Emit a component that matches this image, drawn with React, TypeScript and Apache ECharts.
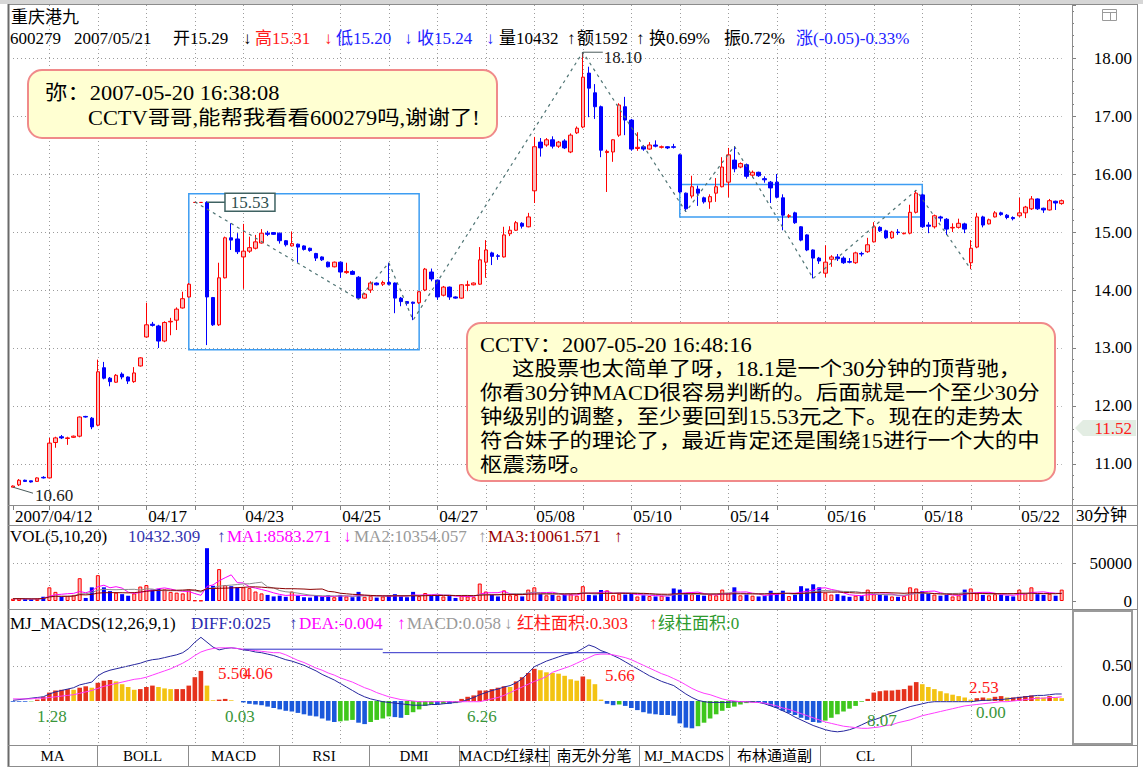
import React, { useEffect, useRef } from 'react';
import * as echarts from 'echarts';

const FONT = "'Liberation Serif', 'Noto Sans CJK SC', serif";

// 30-minute bars: [open, close, low, high]
const ohlc: number[][] = [
  [10.60,10.62,10.60,10.63],[10.64,10.72,10.62,10.74],[10.72,10.70,10.69,10.73],[10.71,10.69,10.68,10.71],[10.70,10.76,10.69,10.77],[10.77,10.76,10.75,10.79],[10.76,11.36,10.75,11.45],[11.37,11.45,11.28,11.47],[11.47,11.45,11.43,11.50],[11.44,11.45,11.33,11.47],
  [11.46,11.48,11.45,11.49],[11.48,11.81,11.46,11.82],[11.82,11.81,11.80,11.83],[11.79,11.64,11.60,11.81],[11.67,12.59,11.65,12.80],[12.66,12.48,12.46,12.76],[12.48,12.42,12.34,12.50],[12.41,12.53,12.40,12.55],[12.55,12.50,12.46,12.58],[12.50,12.43,12.38,12.51],
  [12.42,12.57,12.40,12.67],[12.69,12.83,12.68,12.84],[13.19,13.40,13.18,13.78],[13.41,13.39,13.37,13.45],[13.38,13.12,13.00,13.40],[13.12,13.44,13.10,13.46],[13.45,13.46,13.22,13.52],[13.48,13.67,13.31,13.70],[13.69,13.85,13.68,13.97],[13.88,14.10,13.87,14.12],
  [15.51,15.51,15.51,15.51],[15.51,15.51,15.51,15.51],[15.51,13.88,13.05,15.53],[13.87,13.40,13.38,13.88],[13.40,14.21,13.38,14.47],[14.21,14.90,14.20,14.92],[14.90,14.86,14.69,15.15],[14.88,14.66,14.62,14.98],[14.57,14.67,14.02,15.14],[14.67,14.73,14.64,14.92],
  [14.72,14.83,14.70,14.95],[14.81,14.98,14.80,15.05],[14.98,14.96,14.93,15.02],[14.99,14.96,14.95,15.00],[14.98,14.85,14.80,14.99],[14.85,14.78,14.75,14.86],[14.76,14.80,14.75,15.01],[14.79,14.74,14.47,14.80],[14.76,14.70,14.68,14.77],[14.72,14.68,14.66,14.73],
  [14.63,14.55,14.50,14.64],[14.57,14.52,14.50,14.58],[14.48,14.40,14.39,14.49],[14.40,14.48,14.39,14.49],[14.48,14.31,14.21,14.49],[14.30,14.32,14.28,14.47],[14.32,14.27,14.26,14.34],[14.22,13.86,13.84,14.24],[13.86,13.93,13.85,13.95],[14.00,14.12,13.95,14.15],
  [14.12,14.09,14.08,14.13],[14.10,14.13,14.07,14.16],[14.13,14.10,14.08,14.47],[14.12,13.86,13.60,14.13],[13.86,13.80,13.72,13.88],[13.80,13.77,13.73,13.81],[13.79,13.77,13.48,13.80],[13.78,13.97,13.76,13.98],[14.00,14.36,13.98,14.38],[14.31,14.19,14.15,14.37],
  [14.17,13.88,13.83,14.18],[13.91,14.05,13.89,14.07],[14.05,13.88,13.83,14.06],[13.88,13.86,13.85,13.89],[13.86,14.09,13.85,14.10],[14.08,14.09,13.98,14.16],[14.09,14.12,14.08,14.13],[14.10,14.52,14.09,14.74],[14.48,14.69,14.21,14.86],[14.64,14.58,14.43,14.66],
  [14.59,14.58,14.52,14.62],[14.57,14.95,14.56,15.09],[14.97,15.03,14.93,15.10],[15.03,15.16,15.02,15.19],[15.15,15.10,15.06,15.17],[15.09,15.26,15.08,15.33],[15.71,16.47,15.50,16.64],[16.55,16.45,16.30,16.62],[16.50,16.59,16.47,16.62],[16.59,16.48,16.44,16.65],
  [16.48,16.55,16.45,16.57],[16.57,16.45,16.43,16.60],[16.38,16.67,16.36,16.70],[16.71,16.79,16.69,16.82],[16.81,17.67,16.79,18.10],[17.74,17.48,16.98,17.85],[17.40,17.16,16.95,17.55],[17.16,16.41,16.29,17.18],[16.37,16.39,15.69,16.42],[16.38,16.59,16.21,16.60],
  [16.67,17.19,16.64,17.22],[17.16,16.93,16.67,17.33],[16.93,16.43,16.40,16.95],[16.44,16.46,16.40,16.72],[16.47,16.43,16.40,16.50],[16.43,16.50,16.42,16.55],[16.50,16.48,16.46,16.58],[16.46,16.47,16.44,16.49],[16.47,16.45,16.43,16.48],[16.47,16.46,16.44,16.52],
  [16.33,15.69,15.67,16.35],[15.67,15.40,15.35,15.68],[15.62,15.78,15.58,15.97],[15.74,15.67,15.45,15.80],[15.59,15.52,15.49,15.61],[15.52,15.61,15.40,15.65],[15.67,15.78,15.52,15.93],[15.78,16.12,15.77,16.29],[15.86,16.33,15.60,16.45],[16.24,16.09,16.03,16.48],
  [16.12,16.18,16.10,16.20],[16.16,15.96,15.92,16.18],[15.98,16.03,15.94,16.06],[16.03,15.97,15.95,16.04],[15.92,15.90,15.85,15.96],[15.86,15.76,15.50,15.88],[15.86,15.60,15.58,16.00],[15.59,15.29,15.03,15.65],[15.27,15.28,15.24,15.31],[15.33,15.16,15.14,15.35],
  [15.09,14.86,14.84,15.10],[14.95,14.69,14.67,14.96],[14.69,14.55,14.20,14.70],[14.55,14.50,14.45,14.57],[14.29,14.48,14.22,14.77],[14.53,14.57,14.40,14.60],[14.57,14.54,14.50,14.62],[14.55,14.47,14.45,14.58],[14.49,14.48,14.46,14.55],[14.47,14.64,14.45,14.66],
  [14.63,14.62,14.58,14.66],[14.66,14.78,14.64,14.90],[14.83,15.09,14.82,15.17],[15.08,15.02,15.00,15.10],[15.02,14.90,14.88,15.04],[14.90,15.00,14.88,15.02],[15.00,14.99,14.95,15.05],[14.97,14.98,14.96,14.99],[14.98,15.34,14.96,15.47],[15.34,15.67,15.32,15.72],
  [15.64,15.09,15.07,15.66],[15.12,15.10,14.98,15.17],[15.09,15.28,15.06,15.30],[15.26,15.24,15.18,15.28],[15.22,15.05,14.95,15.24],[15.07,15.08,15.00,15.15],[15.08,15.15,15.06,15.23],[15.14,15.05,14.98,15.16],[14.47,14.72,14.36,14.86],[14.74,15.26,14.72,15.33],
  [15.26,15.12,15.08,15.28],[15.14,15.21,15.13,15.23],[15.26,15.33,15.25,15.36],[15.33,15.30,15.28,15.35],[15.29,15.25,15.22,15.31],[15.25,15.23,15.20,15.27],[15.28,15.33,15.26,15.59],[15.33,15.43,15.24,15.45],[15.40,15.57,15.38,15.62],[15.57,15.40,15.38,15.58],
  [15.41,15.38,15.33,15.42],[15.38,15.54,15.37,15.57],[15.53,15.50,15.38,15.54],[15.49,15.54,15.47,15.56],
];

const volumes: number[] = [
  3000,3200,2500,2400,3000,5600,18000,12000,5800,6500,
  8000,30000,4000,18000,34000,18000,13000,11000,9000,7000,
  10000,19000,21000,15000,16000,15000,12000,11000,10000,15000,
  800,600,69500,20000,42000,21000,19500,18000,18000,17000,
  12500,10000,8000,6000,7000,5500,12500,7000,5000,4500,
  7000,6000,7500,5000,8000,6000,5000,12000,5500,7000,
  4500,6000,7500,9000,6000,5000,12000,6500,10500,7500,
  8000,6000,6500,4000,7000,6000,5000,23000,12500,8000,
  6000,14000,7500,8000,6000,15000,18000,9000,7500,8000,
  7000,8500,9000,7000,19500,8000,7500,14500,14000,7500,
  9500,8500,10000,6000,7500,6500,6000,7000,5500,16500,
  15000,10000,9000,8000,7000,8500,7500,15000,10500,18000,
  7500,8500,7000,6000,6500,13500,10000,13500,6500,8000,
  19500,16500,22000,18000,11000,8500,9000,7000,5500,7000,
  6500,15000,9000,8000,7500,6000,5500,6500,18000,16500,
  13000,9500,8500,7000,8000,6000,7500,15000,16500,10000,
  8000,7500,9000,8000,7000,6000,15000,10000,18000,9000,
  8000,9500,7000,15000,
];

const macdHist: number[] = [
  -0.01,-0.01,-0.01,-0.005,0.02,0.06,0.12,0.15,0.16,0.17,
  0.16,0.19,0.21,0.19,0.26,0.29,0.30,0.28,0.24,0.20,
  0.16,0.17,0.20,0.22,0.20,0.18,0.17,0.17,0.17,0.22,
  0.34,0.43,0.22,0.01,0.02,0.03,0.01,0.00,-0.02,-0.04,
  -0.05,-0.06,-0.08,-0.10,-0.12,-0.14,-0.15,-0.17,-0.19,-0.21,
  -0.22,-0.25,-0.28,-0.30,-0.29,-0.28,-0.27,-0.31,-0.33,-0.30,
  -0.27,-0.25,-0.22,-0.23,-0.24,-0.20,-0.16,-0.12,-0.07,-0.05,
  -0.05,-0.04,-0.04,-0.03,0.03,0.06,0.08,0.15,0.15,0.17,
  0.19,0.21,0.20,0.28,0.34,0.40,0.46,0.44,0.41,0.40,
  0.39,0.36,0.31,0.29,0.35,0.31,0.24,0.02,-0.04,-0.06,
  -0.05,-0.07,-0.10,-0.13,-0.16,-0.18,-0.19,-0.20,-0.20,-0.21,
  -0.32,-0.38,-0.39,-0.36,-0.31,-0.25,-0.19,-0.14,-0.10,-0.08,
  -0.05,-0.03,-0.02,-0.02,-0.04,-0.07,-0.10,-0.14,-0.17,-0.20,
  -0.24,-0.27,-0.30,-0.31,-0.28,-0.24,-0.19,-0.15,-0.11,-0.07,
  -0.01,0.03,0.12,0.14,0.15,0.15,0.16,0.17,0.22,0.27,
  0.24,0.20,0.17,0.14,0.11,0.09,0.07,0.05,0.02,0.04,
  0.05,0.04,0.06,0.07,0.05,0.05,0.06,0.07,0.08,0.06,
  0.05,0.07,0.05,0.04,
];

const diffValues: number[] = [
  0.01,0.02,0.03,0.04,0.05,0.06,0.10,0.13,0.15,0.17,
  0.19,0.23,0.25,0.27,0.36,0.41,0.44,0.46,0.48,0.50,
  0.52,0.54,0.57,0.59,0.60,0.62,0.64,0.66,0.69,0.75,
  0.84,0.91,0.84,0.77,0.73,0.75,0.76,0.75,0.73,0.72,
  0.70,0.69,0.67,0.65,0.62,0.59,0.57,0.54,0.51,0.47,
  0.43,0.38,0.34,0.30,0.25,0.20,0.15,0.10,0.06,0.03,
  0.01,-0.01,-0.02,-0.03,-0.04,-0.05,-0.06,-0.06,-0.06,-0.05,
  -0.05,-0.04,-0.03,-0.02,-0.01,0.02,0.05,0.09,0.12,0.15,
  0.17,0.20,0.22,0.26,0.32,0.40,0.49,0.53,0.57,0.60,
  0.63,0.66,0.68,0.70,0.75,0.80,0.77,0.72,0.69,0.65,
  0.61,0.56,0.51,0.46,0.41,0.36,0.32,0.28,0.25,0.22,
  0.16,0.10,0.05,0.01,-0.01,-0.02,-0.02,-0.02,-0.02,-0.01,
  -0.01,-0.01,-0.01,-0.02,-0.04,-0.07,-0.10,-0.14,-0.18,-0.23,
  -0.27,-0.31,-0.35,-0.38,-0.41,-0.43,-0.44,-0.43,-0.41,-0.38,
  -0.34,-0.30,-0.27,-0.24,-0.20,-0.17,-0.14,-0.11,-0.08,-0.06,
  -0.04,-0.02,-0.01,-0.01,-0.01,-0.01,-0.01,-0.01,-0.01,0.00,
  0.01,0.01,0.02,0.02,0.03,0.04,0.05,0.06,0.07,0.08,
  0.08,0.09,0.10,0.10,
];

const deaValues: number[] = [
  0.03,0.03,0.03,0.03,0.04,0.04,0.05,0.06,0.07,0.08,
  0.09,0.11,0.13,0.15,0.18,0.21,0.23,0.25,0.27,0.29,
  0.31,0.32,0.34,0.37,0.40,0.43,0.46,0.50,0.54,0.59,
  0.65,0.70,0.73,0.75,0.76,0.76,0.76,0.75,0.74,0.73,
  0.72,0.71,0.70,0.69,0.69,0.66,0.62,0.58,0.55,0.51,
  0.47,0.44,0.40,0.37,0.33,0.30,0.27,0.23,0.19,0.16,
  0.12,0.09,0.06,0.04,0.02,0.01,0.00,-0.01,-0.01,-0.01,
  -0.01,-0.01,-0.01,-0.01,-0.01,-0.01,-0.01,-0.01,0.01,0.03,
  0.05,0.08,0.12,0.16,0.20,0.24,0.28,0.31,0.35,0.41,
  0.44,0.47,0.50,0.54,0.58,0.62,0.66,0.67,0.67,0.66,
  0.64,0.62,0.59,0.55,0.51,0.47,0.43,0.39,0.36,0.32,
  0.28,0.23,0.18,0.14,0.11,0.09,0.06,0.03,0.01,0.00,
  -0.01,-0.01,-0.02,-0.02,-0.03,-0.05,-0.07,-0.10,-0.12,-0.15,
  -0.18,-0.21,-0.24,-0.27,-0.30,-0.32,-0.34,-0.36,-0.37,-0.38,
  -0.39,-0.39,-0.38,-0.37,-0.35,-0.34,-0.31,-0.29,-0.27,-0.24,
  -0.21,-0.19,-0.17,-0.15,-0.13,-0.11,-0.09,-0.07,-0.06,-0.05,
  -0.04,-0.03,-0.02,-0.01,-0.01,0.00,0.01,0.02,0.03,0.04,
  0.04,0.05,0.05,0.06,
];

const dateLabels = ['2007/04/12', '04/17', '04/23', '04/25', '04/27', '05/08', '05/10', '05/14', '05/16', '05/18', '05/22'];
const dateLabelBars = [0, 22, 38, 54, 70, 86, 102, 118, 134, 150, 166];

// zigzag turning points [bar, price]
const zigzagPoints: number[][] = [[30, 15.52], [57, 13.84], [62, 14.47], [66, 13.48], [94, 18.10], [111, 15.35], [119, 16.48], [132, 14.20], [149, 15.72], [158, 14.36]];
// pivot boxes [barFrom, priceTop, barTo, priceBottom]
const pivotBoxes: number[][] = [[29, 15.66, 67, 12.97], [110, 15.82, 150, 15.26]];
// flat DIFF reference segments
const diffLevelSegments: number[][][] = [[[38, 0.74], [61, 0.74]], [[61, 0.69], [98, 0.69]]];

const highMark = { bar: 94, value: 18.10, text: '18.10' };
const lowMark = { bar: 0, value: 10.60, text: '10.60' };
const boxMark = { bar: 32, value: 15.53, text: '15.53' };

const tabNames = ['MA', 'BOLL', 'MACD', 'RSI', 'DMI', 'MACD红绿柱', '南无外分笔', 'MJ_MACDS', '布林通道副', 'CL'];

// layout
const W = 1143;
const H = 772;
const PLOT_L = 13;
const PLOT_R = 1061.7;
const AXIS_X = 1072;
const GRID_FIRST = 6;
const GRID_STEP = 8;

const UP_RED = '#ff0000';
const UP_FILL = '#f9b9b9';
const DOWN_BLUE = '#0000ff';

function movingAverage(data: number[], n: number): number[] {
  return data.map((_, i) => {
    const s = Math.max(0, i - n + 1);
    let sum = 0;
    for (let k = s; k <= i; k++) sum += data[k];
    return +(sum / (i - s + 1)).toFixed(1);
  });
}

function buildOption(): any {
  const categories = ohlc.map((_, i) => String(i));
  const labelByBar = new Map<number, string>(dateLabelBars.map((b, k) => [b, dateLabels[k]]));
  const isGridBar = (i: number) => i >= GRID_FIRST && (i - GRID_FIRST) % GRID_STEP === 0;
  const dotted = { color: '#9c9c9c', width: 1, type: [1, 3] };
  const gridCommon = { left: PLOT_L, right: W - PLOT_R };
  const baseX = (gridIndex: number) => ({
    type: 'category', gridIndex, data: categories, boundaryGap: false,
    axisLine: { show: false }, axisTick: { show: false }, axisLabel: { show: false },
    splitLine: { show: true, interval: (i: number) => isGridBar(i), lineStyle: dotted },
  });
  const baseY = (gridIndex: number) => ({
    type: 'value', gridIndex, position: 'right', offset: AXIS_X - PLOT_R,
    axisLine: { show: true, lineStyle: { color: '#808080' } },
    axisTick: { show: true, length: 4, lineStyle: { color: '#808080' } },
    axisLabel: { show: true, align: 'right', margin: 60, color: '#000', fontSize: 17, fontFamily: FONT },
    splitLine: { show: true, showMinLine: false, showMaxLine: false, lineStyle: dotted },
  });

  const vma5 = movingAverage(volumes, 5);
  const vma10 = movingAverage(volumes, 10);
  const vma20 = movingAverage(volumes, 20);

  const histColor = (i: number) => {
    const v = macdHist[i];
    const prev = i > 0 ? macdHist[i - 1] : 0;
    if (v >= 0) return v >= prev ? '#e5321c' : '#f3c312';
    return v <= prev ? '#1b58db' : '#3fc71c';
  };

  return {
    animation: false,
    backgroundColor: '#ffffff',
    textStyle: { fontFamily: FONT },
    grid: [
      { ...gridCommon, top: 5, bottom: H - 505 },
      { ...gridCommon, top: 525, bottom: H - 601 },
      { ...gridCommon, top: 610, bottom: H - 745 },
    ],
    xAxis: [
      {
        ...baseX(0),
        axisLine: { show: true, lineStyle: { color: '#808080' } },
        axisTick: { show: true, length: 5, interval: (i: number) => i === 0 || isGridBar(i), lineStyle: { color: '#808080' } },
        axisLabel: {
          show: true, interval: (i: number) => labelByBar.has(i),
          formatter: (_v: string, i: number) => labelByBar.get(i) ?? '',
          align: 'left', padding: [0, 0, 0, 2], margin: 3, color: '#000', fontSize: 17, fontFamily: FONT,
        },
      },
      baseX(1),
      baseX(2),
    ],
    yAxis: [
      {
        ...baseY(0), min: 10.293, max: 18.914, splitNumber: 8,
        minorTick: { show: true, splitNumber: 5, length: 2, lineStyle: { color: '#808080' } },
        axisLabel: { ...baseY(0).axisLabel, formatter: (v: number) => (Math.abs(v - Math.round(v)) < 1e-6 ? v.toFixed(2) : '') },
      },
      {
        ...baseY(1), min: 0, max: 100000, splitNumber: 2,
        axisLabel: { ...baseY(1).axisLabel, formatter: (v: number) => (v === 0 || v === 50000 ? String(v) : '') },
      },
      {
        ...baseY(2), min: -0.6286, max: 1.3, splitNumber: 4,
        axisTick: { show: false },
        splitLine: { show: false },
        axisLabel: { ...baseY(2).axisLabel, formatter: (v: number) => (Math.abs(v) < 1e-9 ? '0.00' : Math.abs(v - 0.5) < 1e-9 ? '0.50' : '') },
      },
    ],
    series: [
      {
        type: 'candlestick', name: 'K', xAxisIndex: 0, yAxisIndex: 0, data: ohlc, barWidth: 4, clip: false, silent: true,
        itemStyle: { color: UP_FILL, color0: DOWN_BLUE, borderColor: UP_RED, borderColor0: DOWN_BLUE, borderWidth: 1 },
        markArea: {
          silent: true,
          itemStyle: { color: 'rgba(0,0,0,0)', borderColor: '#3d9df2', borderWidth: 1.5 },
          data: pivotBoxes.map(([x1, y1, x2, y2]) => [{ xAxis: x1, yAxis: y1 }, { xAxis: x2, yAxis: y2 }]),
        },
      },
      {
        type: 'line', name: 'zigzag', xAxisIndex: 0, yAxisIndex: 0, data: zigzagPoints, symbol: 'none', silent: true, z: 3,
        lineStyle: { color: '#4f7474', width: 1.2, type: [3, 4] },
      },
      {
        type: 'bar', name: 'VOL', xAxisIndex: 1, yAxisIndex: 1, barWidth: 4, clip: false, silent: true,
        data: volumes.map((v, i) => {
          const up = ohlc[i][1] >= ohlc[i][0];
          return { value: v, itemStyle: up ? { color: UP_FILL, borderColor: UP_RED, borderWidth: 1 } : { color: DOWN_BLUE } };
        }),
      },
      { type: 'line', name: 'MA1', xAxisIndex: 1, yAxisIndex: 1, data: vma5, symbol: 'none', silent: true, lineStyle: { color: '#ff00ff', width: 1 } },
      { type: 'line', name: 'MA2', xAxisIndex: 1, yAxisIndex: 1, data: vma10, symbol: 'none', silent: true, lineStyle: { color: '#8c8c8c', width: 1 } },
      { type: 'line', name: 'MA3', xAxisIndex: 1, yAxisIndex: 1, data: vma20, symbol: 'none', silent: true, lineStyle: { color: '#8b0000', width: 1 } },
      {
        type: 'bar', name: 'MACD', xAxisIndex: 2, yAxisIndex: 2, barWidth: 4.6, clip: false, silent: true,
        data: macdHist.map((v, i) => ({ value: v, itemStyle: { color: histColor(i) } })),
        markLine: {
          silent: true, symbol: 'none', label: { show: false },
          lineStyle: { color: '#9c9c9c', width: 1, type: [1, 3] },
          data: [{ yAxis: 0.5 }],
        },
      },
      { type: 'line', name: 'DIFF', xAxisIndex: 2, yAxisIndex: 2, data: diffValues, symbol: 'none', silent: true, z: 4, lineStyle: { color: '#26269e', width: 1 } },
      { type: 'line', name: 'DEA', xAxisIndex: 2, yAxisIndex: 2, data: deaValues, symbol: 'none', silent: true, z: 4, lineStyle: { color: '#ff3cff', width: 1 } },
      ...diffLevelSegments.map((seg) => ({
        type: 'line', xAxisIndex: 2, yAxisIndex: 2, data: seg, symbol: 'none', silent: true, z: 4, lineStyle: { color: '#2d2dc8', width: 1 },
      })),
    ],
  };
}

function buildGraphics(chart: any): any[] {
  const g: any[] = [];
  const line = (x1: number, y1: number, x2: number, y2: number, stroke = '#8c8c8c', lineWidth = 1, z = 50) =>
    g.push({ type: 'line', silent: true, z, shape: { x1, y1, x2, y2 }, style: { stroke, lineWidth } });
  const text = (x: number, y: number, t: string, fill = '#000', size = 17, align = 'left', extra: any = {}) =>
    g.push({
      type: 'text', silent: true, z: 60, x, y, ...extra,
      style: { text: t, fill, fontSize: size, fontFamily: FONT, align, verticalAlign: 'middle', textAlign: align, textVerticalAlign: 'middle' },
    });

  // window chrome / frame
  g.push({ type: 'rect', silent: true, z: 49, shape: { x: 0, y: 0, width: W, height: 4 }, style: { fill: '#d6d6d6' } });
  line(8, 4.5, 1137, 4.5);
  line(8.5, 4, 8.5, 767, '#6a6a6a', 2);
  line(1137.5, 4, 1137.5, 767);
  line(8, 766.5, 1137, 766.5);
  line(8, 505.5, 1137, 505.5);
  line(8, 525.5, 1137, 525.5);
  line(8, 609.5, 1137, 609.5);
  line(8, 745.5, 1137, 745.5);
  line(1072.5, 4, 1072.5, 745);
  g.push({ type: 'rect', silent: true, z: 50, shape: { x: 1073, y: 611, width: 59, height: 133 }, style: { fill: 'none', stroke: '#9a9a9a', lineWidth: 2 } });
  // window icon
  g.push({ type: 'rect', silent: true, z: 50, shape: { x: 1102.5, y: 9.5, width: 14, height: 11 }, style: { fill: '#fff', stroke: '#9a9a9a', lineWidth: 1 } });
  line(1102.5, 12.5, 1116.5, 12.5, '#9a9a9a');
  line(1110.5, 12.5, 1110.5, 20.5, '#9a9a9a');

  // tabs
  const tabEdges = [8, 97, 188, 279, 369, 459, 549, 639, 729, 820, 911];
  tabEdges.slice(1).forEach((x) => line(x + 0.5, 745, x + 0.5, 767));
  tabNames.forEach((name, k) => text((tabEdges[k] + tabEdges[k + 1]) / 2, 756, name, '#000', 15, 'center'));

  // header
  const RED = '#ff1a1a';
  const BLUE = '#2222ff';
  text(11, 17, '重庆港九');
  const head: [number, string, string][] = [
    [10, '600279', '#000'], [74, '2007/05/21', '#000'], [173, '开15.29', '#000'], [243, '↓', '#000'],
    [255, '高15.31', RED], [324, '↓', RED], [336, '低15.20', BLUE], [404, '↓', BLUE],
    [417, '收15.24', BLUE], [486, '↓', BLUE], [499, '量10432', '#000'], [567, '↑', '#000'],
    [577, '额1592', '#000'], [636, '↑', '#000'], [649, '换0.69%', '#000'], [724, '振0.72%', '#000'],
    [796, '涨(-0.05)-0.33%', BLUE],
  ];
  head.forEach(([x, t, c]) => text(x, 38, t, c));

  const volHead: [number, string, string][] = [
    [10, 'VOL(5,10,20)', '#000'], [128, '10432.309', '#3535b0'], [217, '↑', '#3535b0'],
    [227, 'MA1:8583.271', '#ff00ff'], [343, '↓', '#ff00ff'], [354, 'MA2:10354.057', '#9a9a9a'], [478, '↑', '#9a9a9a'],
    [488, 'MA3:10061.571', '#990000'], [614, '↑', '#990000'],
  ];
  volHead.forEach(([x, t, c]) => text(x, 536, t, c));

  const macdHead: [number, string, string][] = [
    [10, 'MJ_MACDS(12,26,9,1)', '#000'], [191, 'DIFF:0.025', '#2b2bb0'], [289, '↑', '#2b2bb0'],
    [299, 'DEA:-0.004', '#ff00ff'], [397, '↑', '#ff00ff'], [407, 'MACD:0.058', '#9a9a9a'], [504, '↓', '#9a9a9a'],
    [517, '红柱面积:0.303', RED], [649, '↑', RED], [658, '绿柱面积:0', '#2e9a2e'],
  ];
  macdHead.forEach(([x, t, c]) => text(x, 623, t, c));

  text(1076, 515, '30分钟');

  // cursor price marker on axis
  g.push({ type: 'polygon', silent: true, z: 55, shape: { points: [[1075, 428], [1083, 420], [1136, 420], [1136, 436], [1083, 436]] }, style: { fill: '#e3ede3' } });
  text(1132, 428, '11.52', RED, 17, 'right');

  // MACD area labels
  const GREEN = '#3a963a';
  const areaLabels: [number, number, string, string][] = [
    [37, 716, '1.28', GREEN], [218, 673, '5.50', RED], [243, 673, '4.06', RED], [225, 716, '0.03', GREEN],
    [467, 716, '6.26', GREEN], [605, 675, '5.66', RED], [867, 720, '8.07', GREEN], [969, 687, '2.53', RED], [976, 712, '0.00', GREEN],
  ];
  areaLabels.forEach(([x, y, t, c]) => text(x, y, t, c));

  // high / low / marked price labels
  const toPx = (bar: number, v: number) => chart.convertToPixel({ seriesIndex: 0 }, [bar, v]);
  const [hx, hy] = toPx(highMark.bar, highMark.value);
  line(hx, hy, hx, hy + 5, '#4a5a5a', 1, 58);
  line(hx, hy, hx + 20, hy, '#4a5a5a', 1, 58);
  text(hx + 21, hy + 5, highMark.text, '#202020');
  const [lx, ly] = toPx(lowMark.bar, lowMark.value);
  line(lx, ly, lx + 20, ly + 6, '#4a5a5a', 1, 58);
  text(lx + 22, ly + 8, lowMark.text, '#202020');
  const [bx, by] = toPx(boxMark.bar, boxMark.value);
  line(bx, by + 1, bx + 18, by + 1, '#3f6262', 1.5, 58);
  g.push({ type: 'rect', silent: true, z: 58, shape: { x: bx + 18, y: by - 8, width: 50, height: 18 }, style: { fill: '#ffffff', stroke: '#3f6262', lineWidth: 1.5 } });
  text(bx + 43, by + 1, boxMark.text, '#2f4f4f', 17, 'center');

  // comment boxes
  const boxStyle = { fill: '#ffffd2', stroke: '#f08a8a', lineWidth: 2 };
  g.push({ type: 'rect', silent: true, z: 56, shape: { x: 28, y: 70, width: 469, height: 68, r: 14 }, style: boxStyle });
  g.push({ type: 'rect', silent: true, z: 56, shape: { x: 467, y: 323, width: 588, height: 158, r: 14 }, style: boxStyle });
  const note: [number, number, string][] = [
    [45, 93, '弥：2007-05-20 16:38:08'],
    [88, 118, 'CCTV哥哥,能帮我看看600279吗,谢谢了!'],
    [480, 345, 'CCTV：2007-05-20 16:48:16'],
    [512, 369, '这股票也太简单了呀，18.1是一个30分钟的顶背驰，'],
    [480, 393, '你看30分钟MACD很容易判断的。后面就是一个至少30分'],
    [480, 417, '钟级别的调整，至少要回到15.53元之下。现在的走势太'],
    [480, 441, '符合妹子的理论了，最近肯定还是围绕15进行一个大的中'],
    [480, 465, '枢震荡呀。'],
  ];
  note.forEach(([x, y, t]) => text(x, y, t, '#000', 20, 'left', { scaleX: 1.12 }));

  return g;
}

export default function App() {
  const ref = useRef<HTMLDivElement>(null);
  useEffect(() => {
    const el = ref.current;
    if (!el) return;
    const chart = echarts.init(el, null, { renderer: 'svg' });
    chart.setOption(buildOption());
    chart.setOption({ graphic: buildGraphics(chart) });
    return () => chart.dispose();
  }, []);
  return <div ref={ref} style={{ position: 'fixed', left: 0, top: 0, width: W, height: H, background: '#fff' }} />;
}
